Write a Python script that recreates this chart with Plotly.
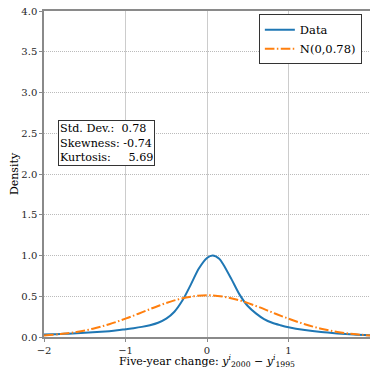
import plotly.graph_objects as go

# Data curve (kernel density estimate)
data_x = [-2.0, -1.9, -1.8, -1.7, -1.6, -1.5, -1.4, -1.3, -1.2, -1.1, -1.0,
          -0.9, -0.8, -0.7, -0.6, -0.5, -0.4, -0.3, -0.2, -0.1, 0.0, 0.07,
          0.15, 0.2, 0.3, 0.4, 0.5, 0.6, 0.7, 0.8, 0.9, 1.0, 1.2, 1.4, 1.6,
          1.8, 2.0]
data_y = [0.03, 0.033, 0.037, 0.041, 0.046, 0.051, 0.057, 0.064, 0.072, 0.082, 0.095,
          0.108, 0.124, 0.145, 0.175, 0.225, 0.31, 0.45, 0.64, 0.84, 0.97, 1.0,
          0.96, 0.89, 0.71, 0.52, 0.38, 0.29, 0.22, 0.175, 0.145, 0.12, 0.085, 0.06, 0.043,
          0.03, 0.021]

# Normal reference curve N(0, 0.78)
norm_x = [-2.0, -1.8, -1.6, -1.4, -1.2, -1.0, -0.8, -0.6, -0.4, -0.2, 0.0,
          0.2, 0.4, 0.6, 0.8, 1.0, 1.2, 1.4, 1.6, 1.8, 2.0]
norm_y = [0.019, 0.036, 0.062, 0.102, 0.157, 0.225, 0.302, 0.381, 0.449, 0.495, 0.512,
          0.495, 0.449, 0.381, 0.302, 0.225, 0.157, 0.102, 0.062, 0.036, 0.019]

x_ticks = [-2, -1, 0, 1, 2]
y_ticks = [0.0, 0.5, 1.0, 1.5, 2.0, 2.5, 3.0, 3.5, 4.0]

stats_labels = ["Std. Dev.:", "Skewness:", "Kurtosis:"]
stats_values = ["0.78", "-0.74", "5.69"]

FONT = "DejaVu Serif, serif"
GRAY = "#8a8a8a"

fig = go.Figure()
fig.add_trace(go.Scatter(x=data_x, y=data_y, mode="lines", name="Data",
                         line=dict(color="#1f77b4", width=2, shape="spline", smoothing=0.8)))
fig.add_trace(go.Scatter(x=norm_x, y=norm_y, mode="lines", name="N(0,0.78)",
                         line=dict(color="#ff7f0e", width=2, shape="spline",
                                   dash="9.6px,2.4px,1.5px,2.4px")))

pads = ["\u00a0\u00a0", "\u00a0", "\u00a0\u00a0\u00a0\u00a0\u00a0"]
stats_text = "<br>".join(f"{l}{p}{v}" for l, p, v in zip(stats_labels, pads, stats_values))
fig.add_annotation(x=0.043, y=0.595, xref="paper", yref="paper", xanchor="left", yanchor="middle",
                   text=stats_text, showarrow=False, align="left",
                   font=dict(family=FONT, size=11.2, color="black"),
                   bordercolor="#333333", borderwidth=1, borderpad=1, bgcolor="white")

fig.update_layout(
    width=370, height=369,
    margin=dict(l=44, r=0, t=11, b=32, autoexpand=False),
    paper_bgcolor="white", plot_bgcolor="white",
    font=dict(family=FONT, size=10, color="#262626"),
    showlegend=True,
    legend=dict(x=0.975, y=0.99, xanchor="right", yanchor="top",
                bordercolor="#333333", borderwidth=1, bgcolor="white",
                font=dict(family=FONT, size=11.5, color="black"),
                tracegroupgap=0, itemwidth=30),
)
fig.update_xaxes(range=[-2, 2], tickvals=x_ticks, ticktext=[("\u2212" + str(-t)) if t < 0 else str(t) for t in x_ticks],
                 showgrid=True, gridcolor="#cccccc", gridwidth=1, automargin=False,
                 showline=True, linecolor=GRAY, linewidth=1.5, mirror=True,
                 ticks="outside", ticklen=3, tickcolor=GRAY, zeroline=False,
                 title=dict(text="Five-year change: <i>y</i><sup><i>i</i></sup><sub>2000</sub> \u2212 <i>y</i><sup><i>i</i></sup><sub>1995</sub>",
                            font=dict(family=FONT, size=11, color="black"), standoff=2))
fig.update_yaxes(range=[0, 4], tickvals=y_ticks, ticktext=[f"{t:.1f}" for t in y_ticks],
                 showgrid=True, gridcolor="#bbbbbb", gridwidth=1, griddash="1px,1px", automargin=False,
                 showline=True, linecolor=GRAY, linewidth=1.5, mirror=True,
                 ticks="outside", ticklen=3, tickcolor=GRAY, zeroline=False,
                 title=dict(text="Density", font=dict(family=FONT, size=11, color="black"), standoff=0))

fig.write_html("out.html", config={"displayModeBar": False},
               post_script="document.body.style.margin='0';document.body.style.overflow='hidden';")
